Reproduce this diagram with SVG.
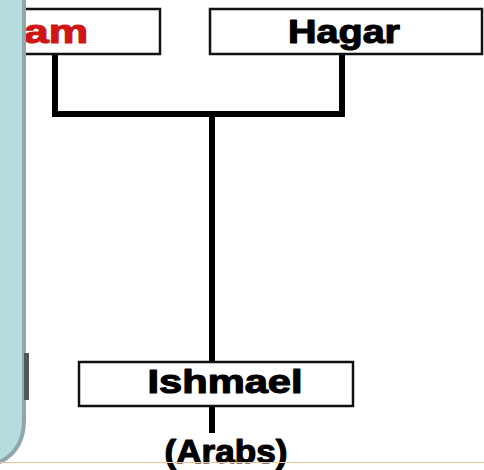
<svg xmlns="http://www.w3.org/2000/svg" width="484" height="470" viewBox="0 0 484 470">
<style>
.box{fill:#fff;stroke:#111;stroke-width:2.5}
.lbl{font-family:"Liberation Sans",Arial,sans-serif;font-weight:bold;font-size:34px;text-anchor:middle;stroke-width:1.2;stroke-linejoin:round}
.wire{stroke:#000;stroke-width:6;fill:none;stroke-linecap:square}
</style>
<rect width="484" height="470" fill="#fff"/>
<g id="connectors">
<path class="wire" d="M55 55 V114 H342 V55"/>
<path class="wire" d="M212 114 V362"/>
<path class="wire" d="M212 406 V430"/>
</g>
<g id="abram">
<rect class="box" x="-10" y="9" width="170" height="45"/>
<text x="56" y="43" class="lbl" fill="#d01515" stroke="#d01515" textLength="64" lengthAdjust="spacingAndGlyphs">am</text>
</g>
<g id="hagar">
<rect class="box" x="210" y="9" width="272" height="45"/>
<text x="344" y="43" class="lbl" fill="#000" stroke="#000" textLength="112" lengthAdjust="spacingAndGlyphs">Hagar</text>
</g>
<g id="ishmael">
<rect class="box" x="79" y="362" width="274" height="44"/>
<text x="225" y="393" class="lbl" fill="#000" stroke="#000" textLength="155" lengthAdjust="spacingAndGlyphs">Ishmael</text>
</g>
<g id="arabs">
<text x="226" y="463" class="lbl" font-size="27" fill="#000" stroke="#000" textLength="123" lengthAdjust="spacingAndGlyphs">(Arabs)</text>
</g>
<g id="panel">
<path d="M-5 -5 H24 V420 Q24 450 0 462 H-5 Z" fill="#b6dce0" stroke="#8ea7ab" stroke-width="4"/>
<rect x="24" y="353" width="5" height="47" fill="#555"/>
</g>
<line x1="0" y1="462.5" x2="484" y2="462.5" stroke="#f0c49a" stroke-width="1"/>
</svg>
